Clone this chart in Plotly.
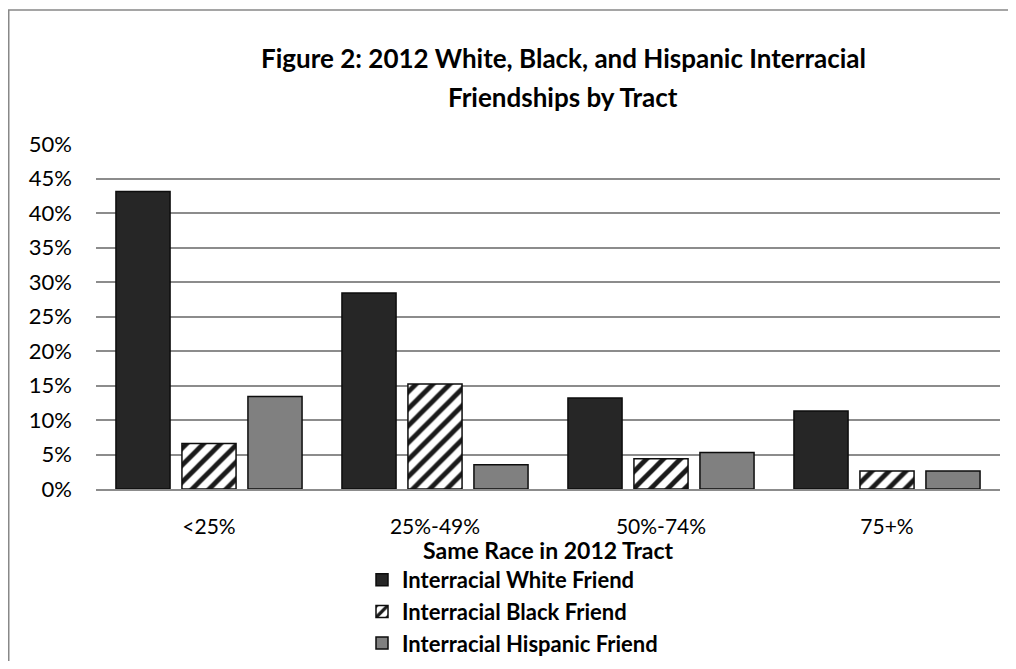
import plotly.graph_objects as go

categories = ["<25%", "25%-49%", "50%-74%", "75+%"]
white_friend = [0.431, 0.284, 0.132, 0.113]
black_friend = [0.066, 0.152, 0.044, 0.026]
hispanic_friend = [0.134, 0.035, 0.053, 0.026]
series_names = ["Interracial White Friend", "Interracial Black Friend", "Interracial Hispanic Friend"]
title_lines = ["<b>Figure 2: 2012 White, Black, and Hispanic Interracial</b>",
               "<b>Friendships by Tract</b>"]
x_title = "<b>Same Race in 2012 Tract</b>"

FONT = "Lato"
OFF = 8  # page body margin

fig = go.Figure()
fig.add_trace(go.Bar(
    x=categories, y=white_friend, name=series_names[0], legendgroup="a",
    marker=dict(color="#262626", line=dict(color="#0d0d0d", width=1.5)),
))
fig.add_trace(go.Bar(
    x=categories, y=black_friend, name=series_names[1], legendgroup="b",
    marker=dict(color="white", line=dict(color="#0d0d0d", width=1.5),
                pattern=dict(shape="/", fgcolor="#1a1a1a", bgcolor="white",
                             size=12, solidity=0.4, fillmode="replace")),
))
fig.add_trace(go.Bar(
    x=categories, y=hispanic_friend, name=series_names[2], legendgroup="c",
    marker=dict(color="#808080", line=dict(color="#0d0d0d", width=1.5)),
))

W, H = 1016 - OFF * 2, 669 - OFF * 2
# target page coords for plot area: x 96..1000, y 144..489
L = 96 - OFF
R = W - (1000 - OFF)
T = 144 - OFF
B = H - (489 - OFF)
pw, ph = W - L - R, H - T - B

def px_x(x):
    # page x -> paper fraction (plot area)
    return (x - OFF - L) / pw

def px_y(y):
    return (H - B - (y - OFF)) / ph

fig.update_layout(
    width=W, height=H,
    margin=dict(l=L, r=R, t=T, b=B, autoexpand=False),
    paper_bgcolor="white", plot_bgcolor="white",
    font=dict(family=FONT, size=22, color="#000000"),
    barmode="group", bargap=0.124, bargroupgap=0.18,
    showlegend=True,
    legend=dict(orientation="v",
                x=px_x(362), xanchor="left", y=px_y(559), yanchor="top",
                font=dict(family=FONT, size=22, color="#000000", weight="bold"),
                tracegroupgap=0, itemwidth=30, bgcolor="rgba(0,0,0,0)"),
    annotations=[
        dict(text=title_lines[0], xref="paper", yref="paper",
             x=px_x(563), y=px_y(58), xanchor="center", yanchor="middle",
             showarrow=False, font=dict(family=FONT, size=26, color="#000000")),
        dict(text=title_lines[1], xref="paper", yref="paper",
             x=px_x(563), y=px_y(97), xanchor="center", yanchor="middle",
             showarrow=False, font=dict(family=FONT, size=26, color="#000000")),
        dict(text=x_title, xref="paper", yref="paper",
             x=px_x(548), y=px_y(550), xanchor="center", yanchor="middle",
             showarrow=False, font=dict(family=FONT, size=23, color="#000000")),
    ],
    shapes=[
        dict(type="rect", xref="paper", yref="paper",
             x0=px_x(8.75), x1=px_x(1040), y0=px_y(720), y1=px_y(10),
             line=dict(color="#888888", width=1.5), fillcolor="rgba(0,0,0,0)",
             layer="below"),
    ],
)
fig.update_yaxes(range=[0, 0.5], dtick=0.05, tickformat=".0%",
                 showgrid=True, gridcolor="#8c8c8c", gridwidth=1.5,
                 zeroline=False, showline=False, ticks="", automargin=False,
                 ticklabelstandoff=23,
                 tickfont=dict(family=FONT, size=22, color="#000000"))
fig.update_xaxes(showline=True, linecolor="#8c8c8c", linewidth=1.5,
                 ticks="", ticklabelstandoff=18, tickangle=0, automargin=False,
                 tickfont=dict(family=FONT, size=21, color="#000000"))

fig.write_html("out.html")
